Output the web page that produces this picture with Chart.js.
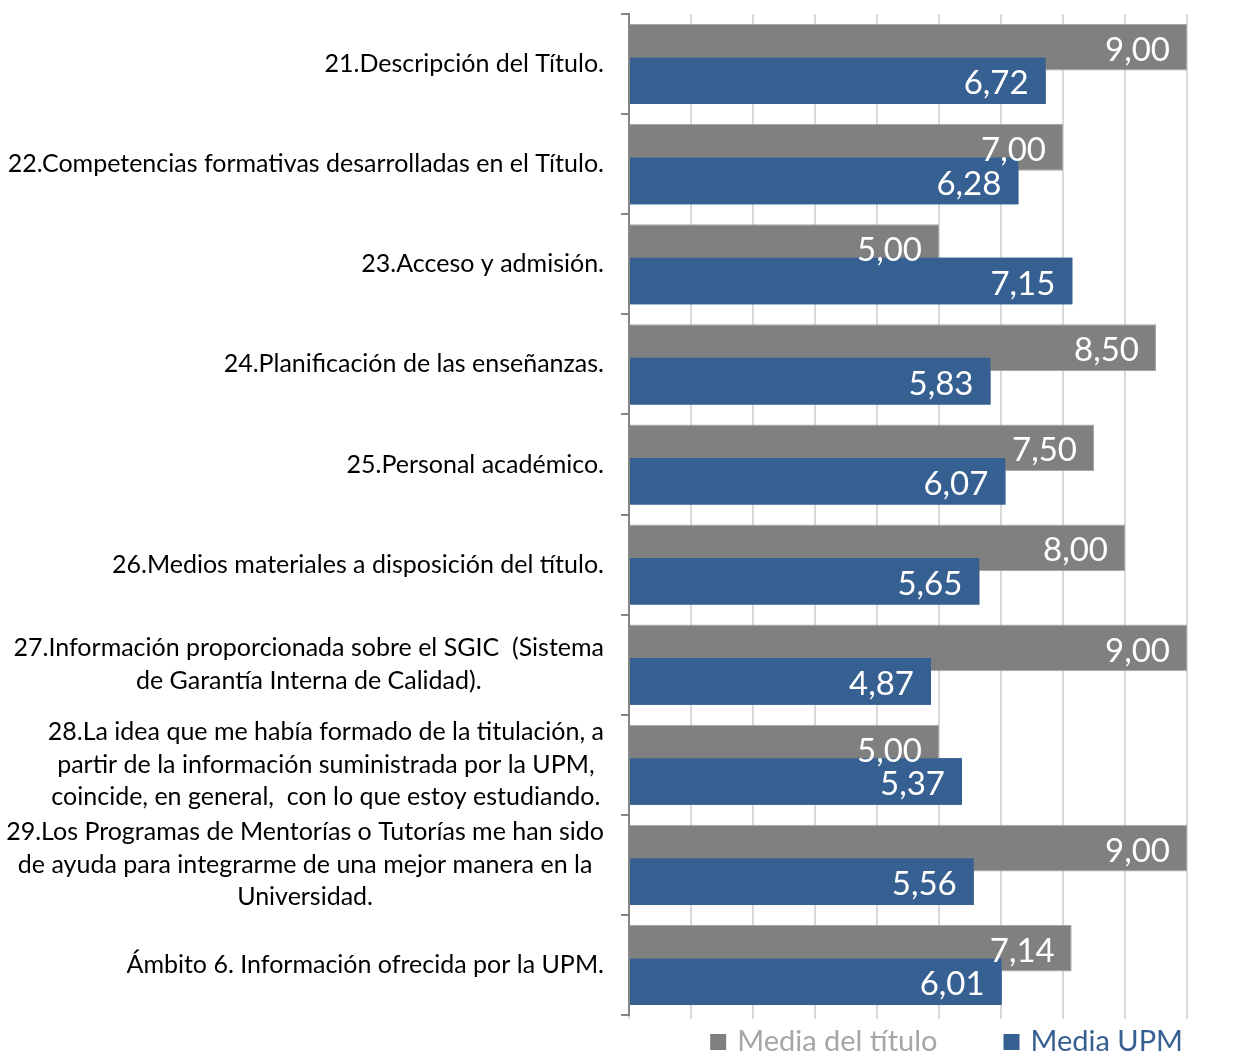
<!DOCTYPE html>
<html>
<head>
<meta charset="utf-8">
<script src="https://cdn.jsdelivr.net/npm/chart.js@4"></script>
<style>
  html, body { margin: 0; padding: 0; background: #fff; }
  #wrap { width: 1238px; height: 1052px; }
</style>
</head>
<body>
<div id="wrap"><canvas id="myChart"></canvas></div>
<script>
const labels = [
  ['21.Descripción del Título.'],
  ['22.Competencias formativas desarrolladas en el Título.'],
  ['23.Acceso y admisión.'],
  ['24.Planificación de las enseñanzas.'],
  ['25.Personal académico.'],
  ['26.Medios materiales a disposición del título.'],
  ['27.Información proporcionada sobre el SGIC  (Sistema', 'de Garantía Interna de Calidad).'],
  ['28.La idea que me había formado de la titulación, a', 'partir de la información suministrada por la UPM,', 'coincide, en general,  con lo que estoy estudiando.'],
  ['29.Los Programas de Mentorías o Tutorías me han sido', 'de ayuda para integrarme de una mejor manera en la', 'Universidad.'],
  ['Ámbito 6. Información ofrecida por la UPM.'],
];

const mediaTitulo = [9.00, 7.00, 5.00, 8.50, 7.50, 8.00, 9.00, 5.00, 9.00, 7.14];
const mediaUPM = [6.72, 6.28, 7.15, 5.83, 6.07, 5.65, 4.87, 5.37, 5.56, 6.01];

const seriesNames = ['Media del título', 'Media UPM'];
const legendColors = ['#a6a6a6', '#376092'];
const FONT = 'Lato';

// etiquetas de categoria: cada bloque centrado, alineado a la derecha del eje
const catLabels = {
  id: 'catLabels',
  afterDraw(chart) {
    const ctx = chart.ctx;
    const y = chart.scales.y;
    const right = y.right - 25;
    const lh = 32.5;
    ctx.save();
    ctx.font = '25px ' + FONT;
    ctx.fillStyle = '#000';
    ctx.textAlign = 'center';
    ctx.textBaseline = 'middle';
    labels.forEach((lines, i) => {
      let w = 0;
      lines.forEach(l => { w = Math.max(w, ctx.measureText(l).width); });
      const cx = right - w / 2;
      const cy = y.getPixelForValue(i);
      lines.forEach((l, k) => {
        ctx.fillText(l, cx, cy + (k - (lines.length - 1) / 2) * lh);
      });
    });
    ctx.restore();
  }
};

// barras azules encima y valores dentro de las barras
const valueLabels = {
  id: 'valueLabels',
  afterDatasetsDraw(chart) {
    const ctx = chart.ctx;
    chart.getDatasetMeta(1).data.forEach(el => el.draw(ctx));
    ctx.save();
    ctx.font = '33px ' + FONT;
    ctx.fillStyle = '#fff';
    ctx.textAlign = 'right';
    ctx.textBaseline = 'middle';
    chart.data.datasets.forEach((ds, di) => {
      chart.getDatasetMeta(di).data.forEach((bar, i) => {
        const txt = ds.data[i].toFixed(2).replace('.', ',');
        ctx.fillText(txt, bar.x - 17, bar.y + 3);
      });
    });
    ctx.restore();
  }
};

// leyenda abajo a la derecha
const legendAbajo = {
  id: 'legendAbajo',
  afterDraw(chart) {
    const ctx = chart.ctx;
    const ds = chart.data.datasets;
    ctx.save();
    ctx.font = '29px ' + FONT;
    ctx.textBaseline = 'middle';
    ctx.textAlign = 'left';
    const yc = 1042;
    let x = chart.chartArea.right - 4;
    for (let i = ds.length - 1; i >= 0; i--) {
      const w = ctx.measureText(ds[i].label).width;
      x -= w;
      ctx.fillStyle = legendColors[i];
      ctx.fillText(ds[i].label, x, yc);
      x -= 27;
      ctx.fillStyle = ds[i].backgroundColor;
      ctx.fillRect(x, yc - 8, 16, 16);
      x -= 66;
    }
    ctx.restore();
  }
};

const data = {
  labels: labels,
  datasets: [
    {
      label: seriesNames[0],
      data: mediaTitulo,
      backgroundColor: '#808080',
      borderColor: '#a6a6a6',
      borderWidth: 1,
    },
    {
      label: seriesNames[1],
      data: mediaUPM,
      backgroundColor: '#376092',
      borderWidth: 0,
    }
  ]
};

const config = {
  type: 'bar',
  data: data,
  plugins: [catLabels, valueLabels, legendAbajo],
  options: {
    indexAxis: 'y',
    responsive: true,
    maintainAspectRatio: false,
    animation: false,
    categoryPercentage: 0.67,
    barPercentage: 1.39,
    layout: { padding: { top: 14, right: 51, left: 0, bottom: 33 } },
    scales: {
      x: {
        min: 0,
        max: 9,
        ticks: { display: false, stepSize: 1 },
        grid: { color: '#d9d9d9', lineWidth: 2, tickLength: 4 },
        border: { display: false },
      },
      y: {
        ticks: { display: false },
        grid: { offset: true, drawOnChartArea: false, color: '#868686', lineWidth: 2, tickLength: 8 },
        border: { display: true, color: '#868686', width: 2 },
        afterFit(scale) { scale.width = 629; },
      }
    },
    plugins: {
      tooltip: { enabled: false },
      legend: { display: false }
    }
  }
};

const myChart = new Chart(document.getElementById('myChart'), config);
</script>
</body>
</html>
